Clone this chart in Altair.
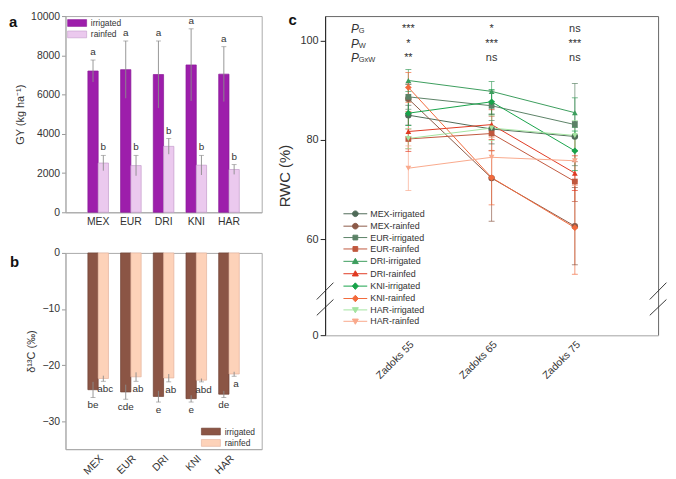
import altair as alt
import pandas as pd

# ---------------- data ----------------
genotypes = ["MEX", "EUR", "DRI", "KNI", "HAR"]
treatments = ["irrigated", "rainfed"]

gy_irrigated = [7200, 7270, 7020, 7510, 7040]
gy_irrigated_err = [560, 1460, 1710, 1840, 1400]
gy_rainfed = [2510, 2380, 3360, 2400, 2180]
gy_rainfed_err = [390, 520, 400, 500, 250]
gy_letters_irrigated = ["a", "a", "a", "a", "a"]
gy_letters_rainfed = ["b", "b", "b", "b", "b"]

d13c_irrigated = [-24.4, -24.8, -25.6, -26.0, -25.2]
d13c_irrigated_err = [1.4, 1.3, 1.0, 0.6, 0.6]
d13c_rainfed = [-22.4, -22.1, -22.3, -22.7, -21.6]
d13c_rainfed_err = [0.5, 0.8, 0.7, 0.3, 0.4]
d13c_letters_irrigated = ["be", "cde", "e", "e", "de"]
d13c_letters_rainfed = ["abc", "ab", "ab", "abd", "a"]

stages = ["Zadoks 55", "Zadoks 65", "Zadoks 75"]
rwc_series = ["MEX-irrigated", "MEX-rainfed", "EUR-irrigated", "EUR-rainfed",
              "DRI-irrigated", "DRI-rainfed", "KNI-irrigated", "KNI-rainfed",
              "HAR-irrigated", "HAR-rainfed"]
rwc_means = [
    [85.0, 82.2, 80.7],
    [88.3, 72.3, 62.6],
    [88.7, 86.9, 83.1],
    [80.2, 81.3, 71.6],
    [92.0, 89.8, 85.5],
    [81.7, 83.1, 73.3],
    [85.4, 87.7, 77.8],
    [90.6, 72.4, 62.3],
    [80.3, 82.4, 80.9],
    [74.3, 76.5, 75.8],
]
rwc_errors = [
    [2.0, 3.0, 3.0],
    [3.0, 8.7, 7.8],
    [2.5, 3.0, 8.3],
    [2.0, 3.5, 4.0],
    [2.2, 2.0, 3.0],
    [4.0, 3.0, 3.5],
    [2.5, 2.5, 4.0],
    [3.0, 5.5, 9.4],
    [2.0, 2.5, 3.0],
    [4.5, 4.0, 5.0],
]
p_subscripts = ["G", "W", "GxW"]
significance = [  # one list per stage, rows G, W, GxW
    ["***", "*", "**"],
    ["*", "***", "ns"],
    ["ns", "***", "ns"],
]

# ---------------- styling ----------------
FONT = "Liberation Sans"
TXT = "#333333"
W_AB, H_AB = 198, 198
W_C, H_C = 336, 322

gy_fill = ["#9d1eab", "#ebc9ee"]
gy_stroke = ["#8a1a98", "#c49bcb"]
d13c_fill = ["#8b5545", "#fdd2b9"]
d13c_stroke = ["#6e4033", "#e3b29c"]
series_colors = ["#4f6b58", "#8c5a48", "#5b8266", "#c0583e", "#3c9d5d",
                 "#e03a22", "#17a34a", "#f26a3c", "#a3e4a0", "#f9a98c"]
marker_shapes = ["circle", "square", "triangle-up", "diamond", "triangle-down"]
marker_sizes = [42, 34, 34, 46, 34]
LINE = "M-4,0H4 "
marker_paths = {
    "circle": "M0.95,0A0.95,0.95,0,1,1,-0.95,0A0.95,0.95,0,1,1,0.95,0Z",
    "square": "M-0.8,-0.8H0.8V0.8H-0.8Z",
    "triangle-up": "M0,-1L1,0.75H-1Z",
    "diamond": "M0,-1.1L1,0L0,1.1L-1,0Z",
    "triangle-down": "M0,1L1,-0.75H-1Z",
}
RECT = "M-3.2,-1.15H3.2V1.15H-3.2Z"


def bar_table(irr, irr_err, rain, rain_err, let_irr, let_rain):
    rows = []
    for i, g in enumerate(genotypes):
        rows.append(dict(genotype=g, treatment="irrigated", value=irr[i], err=irr_err[i], letter=let_irr[i]))
        rows.append(dict(genotype=g, treatment="rainfed", value=rain[i], err=rain_err[i], letter=let_rain[i]))
    df = pd.DataFrame(rows)
    df["lo"] = df["value"] - df["err"]
    df["hi"] = df["value"] + df["err"]
    return df


df_a = bar_table(gy_irrigated, gy_irrigated_err, gy_rainfed, gy_rainfed_err,
                 gy_letters_irrigated, gy_letters_rainfed)
df_b = bar_table(d13c_irrigated, d13c_irrigated_err, d13c_rainfed, d13c_rainfed_err,
                 d13c_letters_irrigated, d13c_letters_rainfed)


def x_geno(angle):
    return alt.X("genotype:N", sort=genotypes, title=None,
                 scale=alt.Scale(paddingInner=0.37, paddingOuter=0.685),
                 axis=alt.Axis(labelAngle=angle, ticks=False, domainColor="#aaaaaa",
                               labelColor=TXT, labelFontSize=10.5, labelPadding=4))


x_off = alt.XOffset("treatment:N", sort=treatments,
                    scale=alt.Scale(paddingInner=0, paddingOuter=0))


def y_bar(field, title, domain, values):
    return alt.Y(f"{field}:Q", title=title,
                 scale=alt.Scale(domain=domain, nice=False),
                 axis=alt.Axis(values=values, format="d", grid=False, tickSize=4, tickColor="#999999",
                               domainColor="#aaaaaa", labelColor=TXT, labelFontSize=10.5,
                               titleFontSize=11, titleFontWeight="normal", titleColor=TXT,
                               titlePadding=5))


def tag(letter, x, y):
    return alt.Chart(pd.DataFrame({"tag": [letter]})).mark_text(
        align="left", baseline="top", fontSize=15, fontWeight="bold", color="#111111"
    ).encode(x=alt.value(x), y=alt.value(y), text="tag:N")


def rect_legend(lx, ly, stroke_col):
    return alt.Legend(title=None, orient="none", legendX=lx, legendY=ly, symbolType=RECT,
                      symbolSize=36, labelOffset=9.6, rowPadding=1.5, labelFontSize=8.5,
                      labelColor=TXT, symbolStrokeColor=stroke_col, symbolStrokeWidth=0.6,
                      padding=0)


# ---------------- panel a ----------------
ya_args = ("GY (kg ha⁻¹)", [0, 10000], [0, 2000, 4000, 6000, 8000, 10000])
bars_a = alt.Chart(df_a).mark_bar(strokeWidth=0.7).encode(
    x=x_geno(0), xOffset=x_off, y=y_bar("value", *ya_args),
    color=alt.Color("treatment:N", scale=alt.Scale(domain=treatments, range=gy_fill),
                    legend=rect_legend(7.5, 2.75, "#b48cbb")),
    stroke=alt.Stroke("treatment:N", scale=alt.Scale(domain=treatments, range=gy_stroke), legend=None),
)
err_a = alt.Chart(df_a).mark_rule(color="#8c8c8c", strokeWidth=0.9).encode(
    x=x_geno(0), xOffset=x_off, y=y_bar("lo", *ya_args), y2="hi:Q")
cap_a = alt.Chart(df_a).mark_tick(color="#8c8c8c", size=5, thickness=0.9, orient="horizontal").encode(
    x=x_geno(0), xOffset=x_off, y=y_bar("hi", *ya_args))
let_a = alt.Chart(df_a).mark_text(baseline="bottom", dy=-3, fontSize=10, color=TXT).encode(
    x=x_geno(0), xOffset=x_off, y=y_bar("hi", *ya_args), text="letter:N")
panel_a = alt.layer(bars_a, err_a, cap_a, let_a, tag("a", -57, -1)).properties(
    width=W_AB, height=H_AB, view=alt.ViewBackground(stroke="#aaaaaa"))

# ---------------- panel b ----------------
yb_args = ("δ¹³C (‰)", [-35, 0], [0, -10, -20, -30])
bars_b = alt.Chart(df_b).mark_bar(strokeWidth=0.7).encode(
    x=x_geno(-45), xOffset=x_off, y=y_bar("value", *yb_args),
    color=alt.Color("treatment:N", scale=alt.Scale(domain=treatments, range=d13c_fill),
                    legend=rect_legend(142.5, 176, "#a08070")),
    stroke=alt.Stroke("treatment:N", scale=alt.Scale(domain=treatments, range=d13c_stroke), legend=None),
)
err_b = alt.Chart(df_b).mark_rule(color="#8c8c8c", strokeWidth=0.9).encode(
    x=x_geno(-45), xOffset=x_off, y=y_bar("lo", *yb_args), y2="hi:Q")
cap_b = alt.Chart(df_b).mark_tick(color="#8c8c8c", size=5, thickness=0.9, orient="horizontal").encode(
    x=x_geno(-45), xOffset=x_off, y=y_bar("lo", *yb_args))
let_b_irr = alt.Chart(df_b).transform_filter(alt.datum.treatment == "irrigated").mark_text(
    baseline="middle", dy=8, fontSize=10, color=TXT).encode(
    x=x_geno(-45), xOffset=x_off, y=y_bar("lo", *yb_args), text="letter:N")
let_b_rain = alt.Chart(df_b).transform_filter(alt.datum.treatment == "rainfed").mark_text(
    baseline="middle", dy=8, dx=2, fontSize=10, color=TXT).encode(
    x=x_geno(-45), xOffset=x_off, y=y_bar("lo", *yb_args), text="letter:N")
panel_b = alt.layer(bars_b, err_b, cap_b, let_b_irr, let_b_rain, tag("b", -56, 2)).properties(
    width=W_AB, height=H_AB, view=alt.ViewBackground(stroke="#aaaaaa"))

# ---------------- panel c ----------------
rows = []
for s_i, name in enumerate(rwc_series):
    for k in range(len(stages)):
        m, e = rwc_means[s_i][k], rwc_errors[s_i][k]
        rows.append(dict(series=name, genotype=name.split("-")[0], stage=k + 1,
                         rwc=m, lo=m - e, hi=m + e))
df_c = pd.DataFrame(rows)
df_caps = pd.concat([
    df_c[["series", "stage", "lo"]].rename(columns={"lo": "rwc"}),
    df_c[["series", "stage", "hi"]].rename(columns={"hi": "rwc"}),
])

label_expr = "[''," + ",".join(f"'{s}'" for s in stages) + "][datum.value]"
xc = alt.X("stage:Q", title=None, scale=alt.Scale(domain=[0, 4], nice=False, zero=False),
           axis=alt.Axis(values=[1, 2, 3], labelExpr=label_expr, labelAngle=-45, ticks=False,
                         grid=False, domainColor="#cccccc", labelColor=TXT, labelFontSize=10.5,
                         labelPadding=4))


def yc(field="rwc"):
    return alt.Y(f"{field}:Q", title="RWC (%)",
                 scale=alt.Scale(domain=[0, 44, 105], range=[H_C, H_C - 17, 0], nice=False, zero=False),
                 axis=alt.Axis(values=[0, 60, 80, 100], grid=False, tickSize=5, tickColor="#222222",
                               domainColor="#222222", labelColor=TXT, labelFontSize=11,
                               titleFontSize=15, titleFontWeight="normal", titleColor=TXT,
                               titlePadding=8))


# colour of the drawn marks: data-driven domain in series order (no legend of its own)
col_c = alt.Color("series:N", sort=rwc_series, scale=alt.Scale(range=series_colors), legend=None)

lines_c = alt.Chart(df_c).mark_line(strokeWidth=1).encode(x=xc, y=yc(), color=col_c)
err_c = alt.Chart(df_c).mark_rule(strokeWidth=0.8, opacity=0.85).encode(
    x=xc, y=yc("lo"), y2="hi:Q", color=col_c)
cap_c = alt.Chart(df_caps).mark_tick(orient="horizontal", size=6, thickness=0.8, opacity=0.85).encode(
    x=xc, y=yc(), color=col_c)
point_layers = []
for g, shp, sz in zip(genotypes, marker_shapes, marker_sizes):
    point_layers.append(
        alt.Chart(df_c).transform_filter(alt.datum.genotype == g).mark_point(
            filled=True, shape=shp, size=sz, opacity=1).encode(x=xc, y=yc(), color=col_c))

legend_paths = [LINE + marker_paths[marker_shapes[genotypes.index(s.split("-")[0])]] for s in rwc_series]
leg_c = alt.Legend(title=None, orient="none", legendX=26, legendY=195, symbolSize=36,
                   labelOffset=10.5, rowPadding=1.5, labelFontSize=9, labelColor=TXT,
                   symbolStrokeWidth=1, symbolOpacity=1, padding=0)
# layer that only carries the combined line+marker legend; its points sit below the
# axis floor and are clipped away, so nothing of it is drawn in the plot.
legend_df = pd.DataFrame({"series": rwc_series, "stage": [1] * len(rwc_series),
                          "rwc": [-20] * len(rwc_series)})
legend_layer = alt.Chart(legend_df).mark_point(
    filled=True, opacity=1, strokeWidth=1, clip=True).encode(
    x=xc, y=yc(),
    fill=alt.Fill("series:N", scale=alt.Scale(domain=rwc_series, range=series_colors), legend=leg_c),
    stroke=alt.Stroke("series:N", scale=alt.Scale(domain=rwc_series, range=series_colors), legend=leg_c),
    shape=alt.Shape("series:N", scale=alt.Scale(domain=rwc_series, range=legend_paths), legend=leg_c),
)

row_y = [102.4, 99.4, 96.6]
p_df = pd.DataFrame({"stage": [0.31] * 3, "rwc": row_y, "P": ["P"] * 3, "sub": p_subscripts})
p_text = alt.Chart(p_df).mark_text(align="left", baseline="middle", fontSize=12, fontStyle="italic",
                                   color=TXT).encode(x=xc, y=yc(), text="P:N")
p_sub = alt.Chart(p_df).mark_text(align="left", baseline="middle", fontSize=7.5, dx=8, dy=2.5,
                                  color=TXT).encode(x=xc, y=yc(), text="sub:N")
sig_rows = []
for k, col in enumerate(significance):
    for r, s in enumerate(col):
        sig_rows.append(dict(stage=k + 1, rwc=row_y[r], sig=s))
sig_text = alt.Chart(pd.DataFrame(sig_rows)).mark_text(
    align="center", baseline="middle", fontSize=11, color=TXT).encode(x=xc, y=yc(), text="sig:N")

breaks_df = pd.DataFrame({"stage": [-0.1, -0.1, 3.9, 3.9], "stage2": [0.1, 0.1, 4.1, 4.1],
                          "rwc": [44.6, 47.8, 44.6, 47.8], "rwc2": [47.8, 51.2, 47.8, 51.2]})
breaks = alt.Chart(breaks_df).mark_rule(color="#222222", strokeWidth=0.9).encode(
    x=xc, x2="stage2:Q", y=yc(), y2="rwc2:Q")

panel_c = alt.layer(lines_c, err_c, cap_c, *point_layers, legend_layer, p_text, p_sub,
                    sig_text, breaks, tag("c", -37, -3)).properties(
    width=W_C, height=H_C, view=alt.ViewBackground(stroke="#666666"))

left = alt.vconcat(panel_a, panel_b, spacing=20).resolve_scale(
    color="independent", stroke="independent").resolve_legend(color="independent")
chart = alt.hconcat(left, panel_c, spacing=14).resolve_scale(
    color="independent", stroke="independent", fill="independent", shape="independent"
).resolve_legend(color="independent", stroke="independent", fill="independent", shape="independent"
).properties(padding=0).configure(font=FONT).configure_text(font=FONT)

chart.save("out.html", embed_options={"renderer": "svg", "actions": False})
